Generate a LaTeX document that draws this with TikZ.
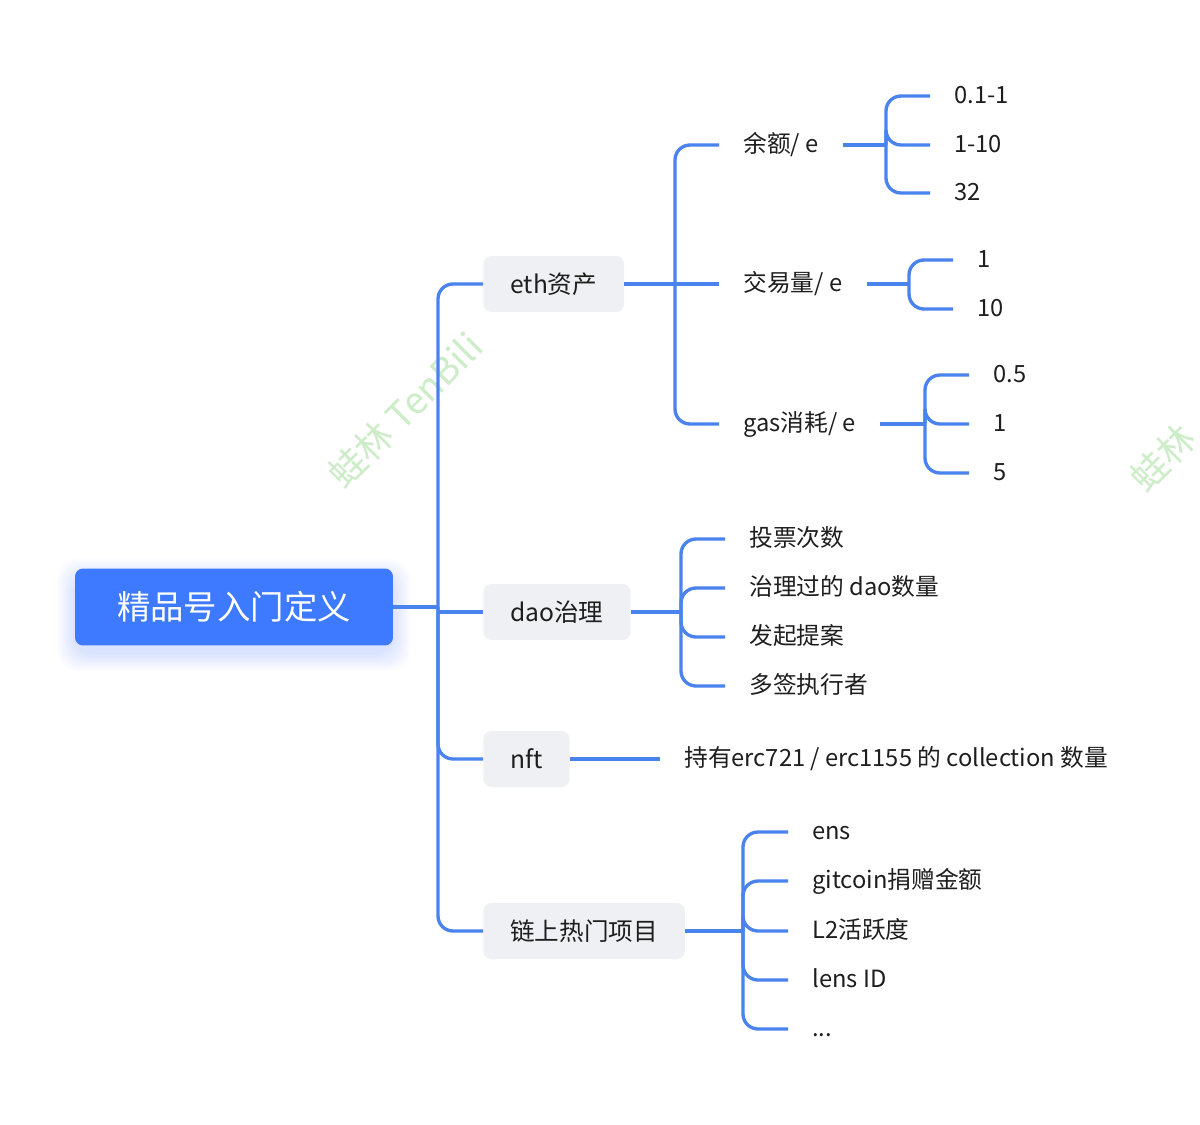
\documentclass[tikz,border=0pt]{standalone}
\usepackage{fontspec}
\setmainfont{Noto Sans CJK SC}
\usetikzlibrary{backgrounds}

\definecolor{rootblue}{RGB}{61,122,255}
\definecolor{linkblue}{RGB}{74,130,238}
\definecolor{boxgray}{RGB}{239,240,243}
\definecolor{inkgray}{RGB}{30,30,30}
\definecolor{markgreen}{RGB}{205,236,200}

\tikzset{
	rootbox/.style={fill=rootblue, rounded corners=0.16cm, text=white,
		minimum width=6.36cm, minimum height=1.54cm, font=\fontsize{19}{19}\selectfont},
	topic/.style={fill=boxgray, rounded corners=0.16cm, text=inkgray, anchor=west,
		inner xsep=0.54cm, minimum height=1.12cm, font=\fontsize{14}{14}\selectfont},
	leaf/.style={text=inkgray, anchor=west, inner xsep=0.48cm, inner ysep=0pt,
		text height=0.92em, text depth=0.1em, font=\fontsize{13.5}{13.5}\selectfont},
	link/.style={draw=linkblue, line width=1.9pt, rounded corners=0.3cm},
	watermark/.style={text=markgreen, rotate=45, font=\fontsize{21}{21}\selectfont}
}

\begin{document}
\begin{tikzpicture}[x=0.02cm,y=-0.02cm]
	\useasboundingbox (0,0) rectangle (1200,1125);
	\clip (0,0) rectangle (1200,1125);
	
	% watermark
	\node[watermark] (wm1) at (405,410) {蛙林 TenBili};
	\node[watermark] (wm2) at (1163,458) {蛙林};
	
	\node[rootbox] (root) at (234,607) {精品号入门定义};
	\begin{scope}[on background layer]
		\fill[white] (0,0) rectangle (1200,1125);
		\foreach \g in {1,3,...,17}
			\fill[rootblue, opacity=0.02, rounded corners=0.4cm]
				([xshift=-\g*0.02cm, yshift=-\g*0.02cm-0.16cm]root.south west) rectangle
				([xshift=\g*0.02cm, yshift=\g*0.02cm-0.16cm]root.north east);
	\end{scope}
	
	\node[topic] (eth) at (483,284) {eth资产};
	\node[topic] (dao) at (483,612) {dao治理};
	\node[topic] (nft) at (483,759) {nft};
	\node[topic] (hot) at (483,931) {链上热门项目};
	
	\coordinate (jroot) at (438,607);
	\draw[link] (root.east) -- (jroot);
	\draw[link] (jroot) |- (eth.west);
	\draw[link] (jroot |- dao.west) -- (dao.west);
	\draw[link] (jroot) |- (nft.west);
	\draw[link] (jroot) |- (hot.west);
	
	% eth
	\node[leaf] (bal) at (719,145) {余额/ e};
	\node[leaf] (vol) at (719,284) {交易量/ e};
	\node[leaf] (gas) at (719,424) {gas消耗/ e};
	\coordinate (jeth) at (675,284);
	\draw[link] (eth.east) -- (jeth);
	\draw[link] (jeth) |- (bal.west);
	\draw[link] (jeth) -- (vol.west);
	\draw[link] (jeth) |- (gas.west);
	
	\node[leaf] (bal1) at (930,96) {0.1-1};
	\node[leaf] (bal2) at (930,145) {1-10};
	\node[leaf] (bal3) at (930,193) {32};
	\coordinate (jbal) at (886,145);
	\draw[link] (bal.east) -- (jbal);
	\foreach \i in {1,2,3}
		\draw[link] (jbal) |- (bal\i.west);
	
	\node[leaf] (vol1) at (953,260) {1};
	\node[leaf] (vol2) at (953,309) {10};
	\coordinate (jvol) at (909,284);
	\draw[link] (vol.east) -- (jvol);
	\foreach \i in {1,2}
		\draw[link] (jvol) |- (vol\i.west);
	
	\node[leaf] (gas1) at (969,375) {0.5};
	\node[leaf] (gas2) at (969,424) {1};
	\node[leaf] (gas3) at (969,473) {5};
	\coordinate (jgas) at (925,424);
	\draw[link] (gas.east) -- (jgas);
	\foreach \i in {1,2,3}
		\draw[link] (jgas) |- (gas\i.west);
	
	% dao
	\node[leaf] (dao1) at (725,539) {投票次数};
	\node[leaf] (dao2) at (725,588) {治理过的 dao数量};
	\node[leaf] (dao3) at (725,637) {发起提案};
	\node[leaf] (dao4) at (725,686) {多签执行者};
	\coordinate (jdao) at (681,612);
	\draw[link] (dao.east) -- (jdao);
	\foreach \i in {1,...,4}
		\draw[link] (jdao) |- (dao\i.west);
	
	% nft
	\node[leaf] (nft1) at (660,759) {持有erc721 / erc1155 的 collection 数量};
	\draw[link] (nft.east) -- (nft1.west);
	
	% hot
	\node[leaf] (hot1) at (788,832) {ens};
	\node[leaf] (hot2) at (788,881) {gitcoin捐赠金额};
	\node[leaf] (hot3) at (788,931) {L2活跃度};
	\node[leaf] (hot4) at (788,980) {lens ID};
	\node[leaf] (hot5) at (788,1029) {...};
	\coordinate (jhot) at (743,931);
	\draw[link] (hot.east) -- (jhot);
	\foreach \i in {1,...,5}
		\draw[link] (jhot) |- (hot\i.west);
\end{tikzpicture}
\end{document}
